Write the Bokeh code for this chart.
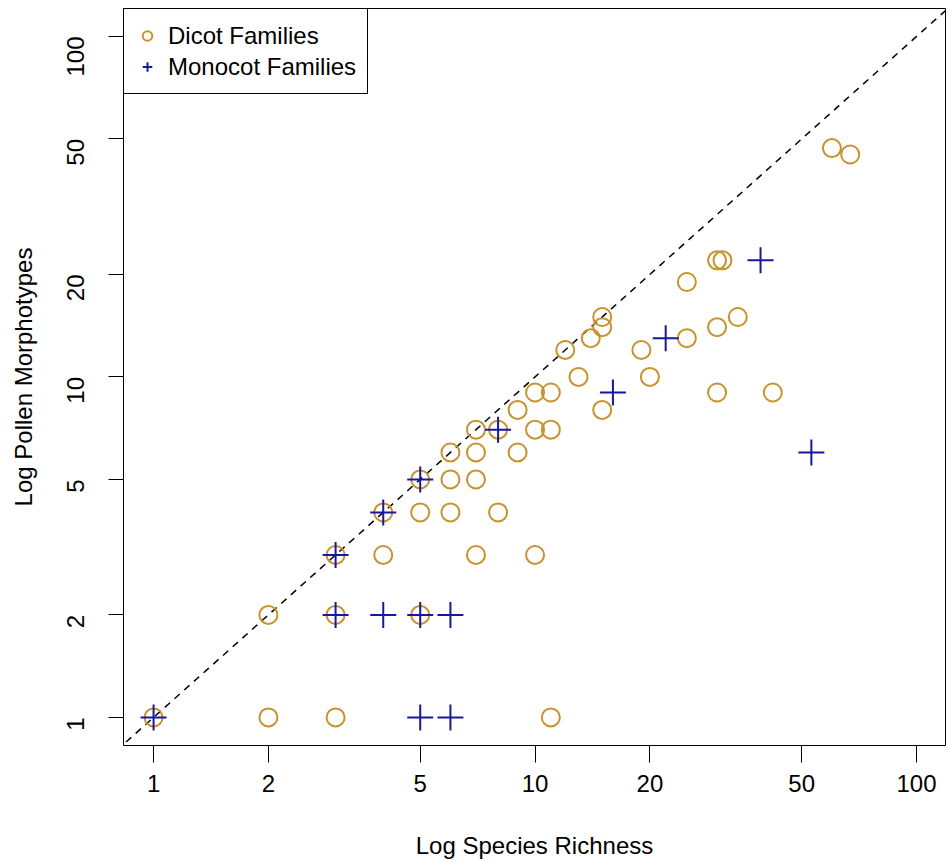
import math
from bokeh.plotting import figure
from bokeh.models import FixedTicker, PrintfTickFormatter, Range1d
from bokeh.embed import file_html
from bokeh.resources import INLINE

# Data
dicot_x = [1, 2, 2, 3, 3, 3, 4, 4, 5, 5, 5, 6, 6, 6, 7, 7, 7, 7, 8, 8, 9, 9,
           10, 10, 10, 11, 11, 11, 12, 13, 14, 15, 15, 15, 19, 20, 25, 25,
           30, 31, 30, 30, 34, 42, 60, 67]
dicot_y = [1, 2, 1, 3, 2, 1, 4, 3, 5, 4, 2, 6, 5, 4, 7, 6, 5, 3, 4, 7, 8, 6,
           9, 7, 3, 9, 7, 1, 12, 10, 13, 14, 15, 8, 12, 10, 19, 13,
           22, 22, 14, 9, 15, 9, 47, 45]
mono_x = [1, 3, 3, 4, 4, 5, 5, 6, 5, 6, 8, 16, 22, 39, 53]
mono_y = [1, 3, 2, 4, 2, 5, 2, 2, 1, 1, 7, 9, 13, 22, 6]
ref_line = [0.5, 200]
x_ticks = [1, 2, 5, 10, 20, 50, 100]
y_ticks = [1, 2, 5, 10, 20, 50, 100]

GOLD = "#C8922E"
BLUE = "#18189A"
FONT = "Liberation Sans"
FS = "24px"

p = figure(width=946, height=863, x_axis_type="log", y_axis_type="log",
           x_range=Range1d(0.834, 119.1), y_range=Range1d(0.827, 120.8),
           output_backend="svg", toolbar_location=None,
           min_border_left=123, min_border_right=1, min_border_top=8,
           min_border_bottom=118)
p.background_fill_color = "white"
p.border_fill_color = "white"
p.outline_line_color = "black"
p.outline_line_width = 1
p.xgrid.visible = False
p.ygrid.visible = False

p.line(ref_line, ref_line, line_color="black", line_width=1.5, line_dash="7 6")

p.scatter(dicot_x, dicot_y, marker="circle", size=18, fill_color=None,
          line_color=GOLD, line_width=2, legend_label="Dicot Families")
p.scatter(mono_x, mono_y, marker="cross", size=26,
          line_color=BLUE, line_width=2, legend_label="Monocot Families")

for ax, ticks in ((p.xaxis[0], x_ticks), (p.yaxis[0], y_ticks)):
    ax.ticker = FixedTicker(ticks=ticks, minor_ticks=[])
    ax.formatter = PrintfTickFormatter(format="%d")
    ax.axis_line_color = None
    ax.major_tick_line_color = "black"
    ax.major_tick_line_width = 1
    ax.major_tick_in = 0
    ax.minor_tick_line_color = None
    ax.major_label_text_font = FONT
    ax.major_label_text_font_size = FS
    ax.major_label_text_color = "black"
    ax.axis_label_text_font = FONT
    ax.axis_label_text_font_size = FS
    ax.axis_label_text_font_style = "normal"
    ax.axis_label_text_color = "black"

p.xaxis[0].axis_label = "Log Species Richness"
p.xaxis[0].major_tick_out = 17
p.xaxis[0].major_label_standoff = 12
p.xaxis[0].axis_label_standoff = 37

p.yaxis[0].axis_label = "Log Pollen Morphotypes"
p.yaxis[0].major_tick_out = 15
p.yaxis[0].major_label_orientation = math.pi / 2
p.yaxis[0].major_label_standoff = 33
p.yaxis[0].axis_label_standoff = 19

lg = p.legend[0]
lg.location = "top_left"
lg.margin = 0
lg.padding = 11
lg.spacing = 0
lg.label_height = 31
lg.glyph_height = 31
lg.glyph_width = 24
lg.label_standoff = 9
lg.label_text_font = FONT
lg.label_text_font_size = FS
lg.label_text_color = "black"
lg.border_line_color = "black"
lg.border_line_width = 1
lg.border_line_alpha = 1
lg.background_fill_color = "white"
lg.background_fill_alpha = 1

open("out.html", "w").write(file_html(p, INLINE))
